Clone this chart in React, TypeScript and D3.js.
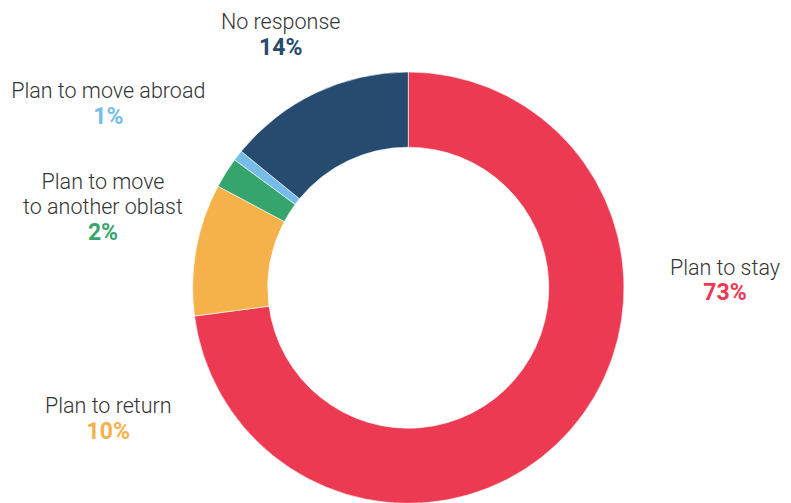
import React from "react";
import * as d3 from "d3";

const categories = [
  "Plan to stay",
  "Plan to return",
  "Plan to move to another oblast",
  "Plan to move abroad",
  "No response",
];
const values = [72.9, 9.9, 2.3, 0.8, 14.1];
const valueLabels = ["73%", "10%", "2%", "1%", "14%"];
const colors = ["#EC3A53", "#F5B24A", "#36A56D", "#75BDE8", "#264B6E"];

// label text lines and anchor (center x, first baseline y)
const labelLines = [
  ["Plan to stay"],
  ["Plan to return"],
  ["Plan to move", "to another oblast"],
  ["Plan to move abroad"],
  ["No response"],
];
const labelAnchors: [number, number][] = [
  [725, 274.5],
  [108.3, 413.3],
  [103, 188.5],
  [108.3, 98.3],
  [280.7, 28.7],
];

const W = 791;
const H = 503;
const CX = 408.3;
const CY = 287.7;
const R_OUT = 215.7;
const R_IN = 140.5;

export default function App() {
  const pie = d3
    .pie<number>()
    .sort(null)
    .startAngle(0)
    .endAngle(2 * Math.PI)
    .value((d) => d);
  const arcs = pie(values);
  const arcGen = d3.arc<d3.PieArcDatum<number>>().innerRadius(R_IN).outerRadius(R_OUT);

  return (
    <div style={{ position: "fixed", left: 0, top: 0, width: W, height: H, background: "#fff" }}>
      <svg width={W} height={H} viewBox={`0 0 ${W} ${H}`}>
        <g transform={`translate(${CX},${CY})`}>
          {arcs.map((a, i) => (
            <path
              key={categories[i]}
              d={arcGen(a) || ""}
              fill={colors[i]}
              stroke="#fff"
              strokeWidth={0.6}
            />
          ))}
        </g>
        {labelLines.map((lines, i) => {
          const [x, y] = labelAnchors[i];
          return (
            <g key={"l" + i}>
              {lines.map((t, j) => (
                <text
                  key={j}
                  x={x}
                  y={y + j * 25.6}
                  textAnchor="middle"
                  fontFamily="Roboto, 'Noto Sans', sans-serif"
                  fontWeight={300}
                  fontSize={21.5}
                  fill="#333"
                >
                  {t}
                </text>
              ))}
              <text
                x={x}
                y={y + lines.length * 25.8}
                textAnchor="middle"
                fontFamily="Roboto, 'Noto Sans', sans-serif"
                fontWeight={700}
                fontSize={23}
                fill={colors[i]}
              >
                {valueLabels[i]}
              </text>
            </g>
          );
        })}
      </svg>
    </div>
  );
}
